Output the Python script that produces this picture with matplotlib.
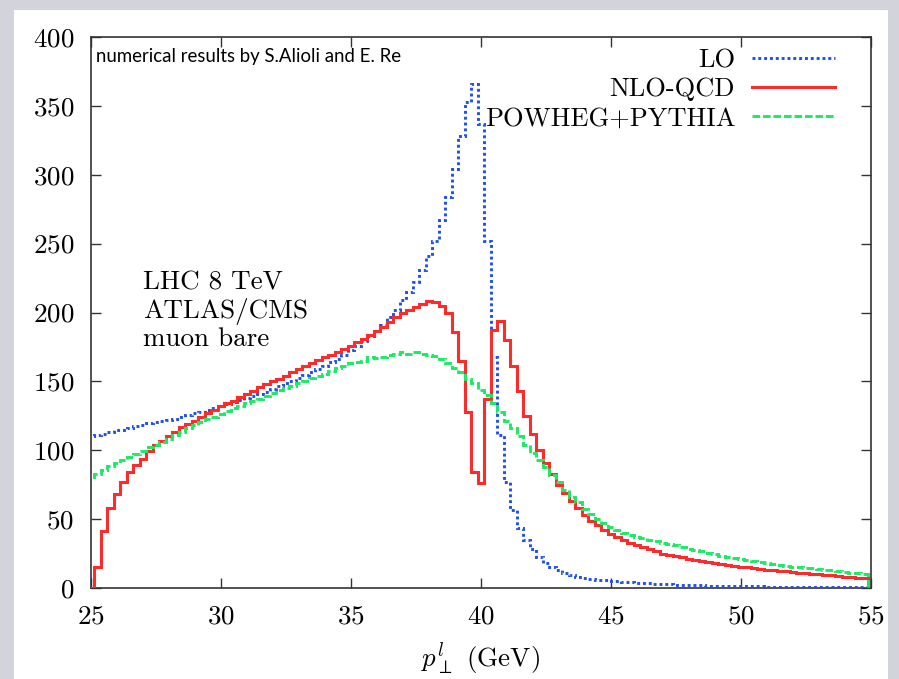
import numpy as np
import matplotlib.pyplot as plt
from matplotlib.patches import Rectangle

plt.rcParams['font.family'] = 'cmr10'
plt.rcParams['mathtext.fontset'] = 'cm'
plt.rcParams['axes.formatter.use_mathtext'] = True

# histogram bins: 0.25 GeV wide, first edge at 24.875
bin_start = 24.875
bin_width = 0.25

lo = [110.5, 111, 112, 113, 114.5, 115, 116.5, 117.5, 118.5, 119.5,
      120.5, 121, 122, 123, 124.5, 125.5, 127, 128, 129.5, 130.5,
      132, 133.5, 135, 136.5, 138, 139.5, 141, 142.5, 144.5, 146.5,
      148.5, 150.5, 152.5, 154.5, 156.5, 159, 161, 164, 166.5, 169.5,
      172.5, 176, 179, 183, 186.5, 191, 197, 202, 209, 215,
      222, 231, 241, 252, 267, 284, 304, 328, 353, 366,
      337, 252, 168, 111, 77, 56.6, 43.3, 34.8, 28, 22.7,
      17.9, 15.4, 13, 11, 9.4, 8.2, 7, 6.4, 6, 5.5,
      5.2, 4.8, 4.5, 4.2, 3.8, 3.5, 3.3, 3.1, 2.9, 2.7,
      2.5, 2.3, 2.2, 2.0, 1.9, 1.8, 1.7, 1.6, 1.5, 1.4,
      1.3, 1.25, 1.2, 1.1, 1.05, 1.0, 0.95, 0.9, 0.85, 0.8,
      0.8, 0.75, 0.7, 0.7, 0.65, 0.6, 0.6, 0.55, 0.5, 0.5]

nlo = [0, 15.5, 41.6, 57.8, 68, 77, 84, 89, 93.7, 99.5,
       104, 106.7, 110, 113, 117, 119, 121, 124, 127, 129,
       132, 134, 136, 138.5, 141, 143, 146, 148, 150, 152,
       154, 157, 159, 161, 163, 165.5, 167.5, 169.5, 171.5, 173.5,
       176, 178.5, 181, 183.5, 186.5, 189.5, 193, 196.5, 199.5, 202,
       204, 206, 208, 207.5, 205, 199.5, 186, 165, 128, 84,
       76.5, 137, 187, 194, 180, 161, 143, 125, 112, 100,
       90.5, 83, 75, 69, 63, 58, 53, 49, 45.5, 42,
       39.5, 37, 35, 33, 31, 29.5, 28, 26.5, 25, 24,
       23, 22.2, 21.3, 20.5, 19.7, 19, 18.2, 17.5, 16.8, 16.2,
       15.5, 15, 14.4, 13.9, 13.4, 12.9, 12.4, 12, 11.5, 11.1,
       10.7, 10.3, 9.9, 9.5, 9.1, 8.7, 8.3, 7.9, 7.5, 7.1]

powheg = [80.5, 83, 86, 88.5, 90.5, 93, 95, 97.5, 99.5, 102,
          104, 106, 108.5, 111, 113.5, 116, 118, 120.5, 122.5, 124.5,
          126.5, 128.5, 130.5, 132, 134, 136, 137.5, 139.5, 141.5, 143.5,
          145.5, 147, 149, 150.5, 152.5, 154, 155.5, 157.5, 159.5, 161.5,
          163, 164, 165, 167.5, 167, 168, 169, 170, 171, 170,
          171, 170, 169.5, 168.5, 166, 163, 160, 157, 152, 149,
          144, 140, 134, 128, 121, 116, 110, 104, 98, 93,
          88, 82, 77, 71, 66, 62.5, 57.5, 53.5, 50, 47,
          44, 42, 40, 38.5, 37, 36, 35, 34, 33, 32,
          31, 30, 28.5, 27.5, 26.5, 25.5, 24.5, 23.5, 22.8, 22,
          21, 20.3, 19.6, 18.8, 18, 17.5, 17, 16.3, 15.6, 15.2,
          14.8, 14.3, 13.8, 13.3, 12.8, 12.3, 11.7, 11.1, 10.6, 10.2]

labels = ['LO', 'NLO-QCD', 'POWHEG+PYTHIA']
colors = ['#1e50f0', '#ff2a2a', '#18ec62']
xticks = [25, 30, 35, 40, 45, 50, 55]
yticks = [0, 50, 100, 150, 200, 250, 300, 350, 400]

edges = bin_start + bin_width * np.arange(len(lo) + 1)

fig = plt.figure(figsize=(8.99, 6.79), dpi=100, facecolor='#d3d3dc')
# white slide panel behind the plot
fig.add_artist(Rectangle((14 / 899, 0), 874 / 899, 669 / 679,
                         transform=fig.transFigure, facecolor='white',
                         edgecolor='none', zorder=-10))
ax = fig.add_axes([91 / 899, 91 / 679, 780 / 899, 551 / 679])
ax.set_zorder(1)

ax.stairs(lo, edges, baseline=0, color=colors[0], lw=2.1,
          ls=(0, (1.0, 1.0)), label=labels[0], zorder=3)
ax.stairs(nlo, edges, baseline=0, color=colors[1], lw=2.2,
          label=labels[1], zorder=4)
ax.stairs(powheg, edges, baseline=0, color=colors[2], lw=2.1,
          ls=(0, (2.6, 1.0)), label=labels[2], zorder=5)

ax.set_xlim(25, 55)
ax.set_ylim(0, 400)
ax.set_xticks(xticks)
ax.set_yticks(yticks)
ax.tick_params(direction='in', length=7, width=1, top=True, right=True,
               labelsize=19.5, color='#333333', pad=12)
for s in ax.spines.values():
    s.set_color('#333333')
    s.set_linewidth(1.2)

ax.set_xlabel(r'$p_\perp^l$ (GeV)', fontsize=19.5, labelpad=9)

ax.text(0.067, 0.575, 'LHC 8 TeV\nATLAS/CMS\nmuon bare', transform=ax.transAxes,
        fontsize=19.5, va='top', ha='left', linespacing=1.13)
ax.text(0.007, 0.964, 'numerical results by S.Alioli and E. Re',
        transform=ax.transAxes, fontsize=13.4, family='Lato',
        va='center', ha='left')

ax.legend(loc='upper right', bbox_to_anchor=(0.954, 0.979), frameon=False,
          fontsize=19, markerfirst=False, handlelength=3.15,
          handletextpad=0.64, labelspacing=0.2, borderpad=0,
          borderaxespad=0)

fig.savefig('out.png', dpi=100, facecolor=fig.get_facecolor())
